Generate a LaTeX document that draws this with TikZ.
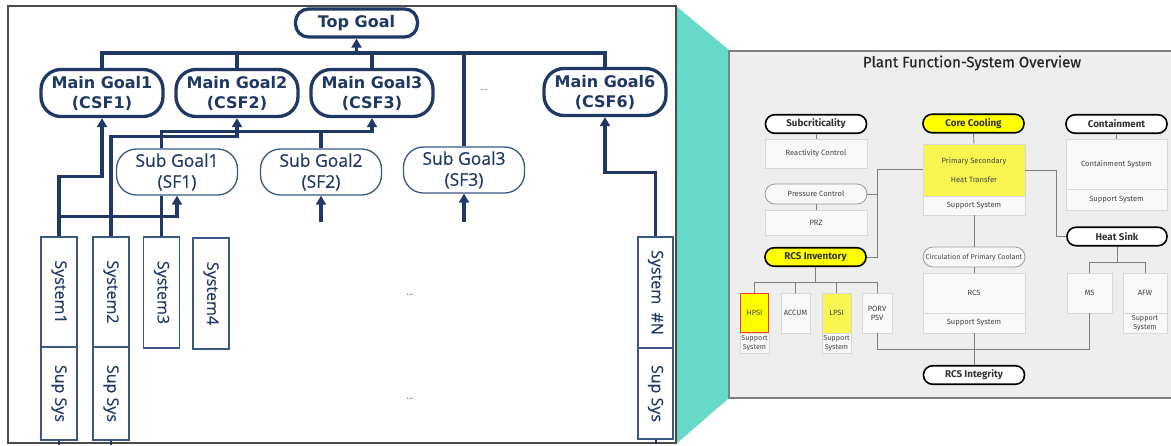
\documentclass[tikz,border=0pt]{standalone}
\usepackage{fontspec}
\usetikzlibrary{arrows.meta,calc}
\newfontfamily\goalfont{DejaVu Sans}
\newfontfamily\subfont{Open Sans}[FakeBold=0.35]
\newfontfamily\panelfont{Fira Sans}
\newfontfamily\titlefont{Fira Sans}[FakeBold=0.6]
\definecolor{navy}{HTML}{1F3864}
\definecolor{sysblue}{HTML}{3A5785}
\definecolor{framegray}{HTML}{4A4A4A}
\definecolor{teal}{HTML}{66D9C8}
\definecolor{panelbg}{HTML}{EEEEEE}
\definecolor{panelline}{HTML}{808080}
\definecolor{boxfill}{HTML}{F8F8F8}
\definecolor{boxline}{HTML}{D8D8D8}
\definecolor{boxtext}{HTML}{444444}
\definecolor{goalyellow}{HTML}{FFFF00}
\definecolor{softyellow}{HTML}{F8F550}
\definecolor{hpsired}{HTML}{F03C2C}
\tikzset{
  x=1pt, y=-1pt,
  maingoal/.style={draw=navy, line width=3.3pt, rounded corners=20pt, fill=white,
    minimum width=122pt, minimum height=47pt, inner sep=0pt, align=center,
    text=navy, font=\goalfont\bfseries\fontsize{16}{20}\selectfont},
  topgoal/.style={maingoal, minimum height=28pt, rounded corners=13pt},
  subgoal/.style={draw=sysblue, line width=1.3pt, rounded corners=20pt, fill=white,
    minimum width=121pt, minimum height=46pt, inner sep=0pt, align=center,
    text=navy, font=\subfont\fontsize{17.5}{21}\selectfont},
  sysbox/.style={draw=sysblue, line width=1.2pt, fill=white, minimum width=36pt,
    inner sep=0pt, text=navy, font=\subfont\fontsize{16}{18}\selectfont},
  tree/.style={navy, line width=3.6pt},
  arr/.style={tree, -{Triangle[width=10pt,length=9pt]}},
  dots/.style={text=gray, font=\panelfont\fontsize{10}{10}\selectfont},
  % right-hand overview panel
  pgoal/.style={draw=black, line width=1.6pt, rounded corners=9pt, fill=white,
    minimum width=101pt, minimum height=18.5pt, inner sep=0pt, text=black!80,
    font=\panelfont\bfseries\fontsize{9.8}{11}\selectfont},
  ygoal/.style={pgoal, fill=goalyellow},
  psub/.style={draw=panelline!80, line width=0.8pt, rounded corners=10pt, fill=boxfill,
    minimum width=102pt, minimum height=20pt, inner sep=0pt, text=boxtext,
    font=\panelfont\fontsize{7.6}{8}\selectfont},
  pbox/.style={draw=boxline, line width=0.6pt, fill=boxfill, inner sep=0pt,
    align=center, text=boxtext, font=\panelfont\fontsize{7.6}{9}\selectfont},
  smallbox/.style={pbox, font=\panelfont\fontsize{7.2}{8.5}\selectfont},
  plink/.style={panelline, line width=0.9pt},
}
\begin{document}
\begin{tikzpicture}
\useasboundingbox (0,0) rectangle (1171,445);
\fill[white] (0,0) rectangle (1171,445);

% connecting wedge between the two panels
\fill[teal] (676,6) -- (729,50) -- (729,398) -- (676,444) -- cycle;

% ---------------- goal tree ----------------
\draw[framegray, line width=1.5pt, fill=white] (8,6) rectangle (676,443);

\node[topgoal] (top) at (356.5,23) {Top Goal};
\node[maingoal] (mg1) at (102,93) {Main Goal1\\(CSF1)};
\node[maingoal] (mg2) at (237,93) {Main Goal2\\(CSF2)};
\node[maingoal] (mg3) at (372,93) {Main Goal3\\(CSF3)};
\node[maingoal] (mg6) at (605,92) {Main Goal6\\(CSF6)};
\node[dots] (dtop) at (484,90) {...};

\node[subgoal] (sg1) at (177,172) {Sub Goal1\\(SF1)};
\node[subgoal] (sg2) at (321,172) {Sub Goal2\\(SF2)};
\node[subgoal] (sg3) at (464,170) {Sub Goal3\\(SF3)};

\node[sysbox, minimum height=110pt] (sys1) at (59,292) {\rotatebox{-90}{System1}};
\node[sysbox, minimum height=93pt] (sup1) at (59,393.5) {\rotatebox{-90}{Sup Sys}};
\node[sysbox, minimum height=110pt] (sys2) at (111,292) {\rotatebox{-90}{System2}};
\node[sysbox, minimum height=93pt] (sup2) at (111,393.5) {\rotatebox{-90}{Sup Sys}};
\node[sysbox, minimum height=111pt] (sys3) at (161.5,292.5) {\rotatebox{-90}{System3}};
\node[sysbox, minimum height=111pt] (sys4) at (211,293.5) {\rotatebox{-90}{System4}};
\node[sysbox, minimum width=35pt, minimum height=111pt] (sysN) at (655.5,292.5) {\rotatebox{-90}{System\ \ \#N}};
\node[sysbox, minimum width=35pt, minimum height=91pt] (supN) at (655.5,393.5) {\rotatebox{-90}{Sup Sys}};
\node[dots] (dmid) at (410,295) {...};
\node[dots] (dlow) at (410,399) {...};

% top-level bus
\coordinate (bus) at (0,53);
\draw[tree] (mg1.north) -- (mg1.north |- bus) -- (mg6.north |- bus) -- (mg6.north);
\draw[tree] (mg2.north) -- (mg2.north |- bus);
\draw[tree] (mg3.north) -- (mg3.north |- bus);
\draw[tree] (sg3.north) -- (sg3.north |- bus);
\draw[arr] (top.south |- bus) -- (top.south);

% systems feeding goals
\draw[arr] (sys1.north) -- ++(0,-60) -| (mg1.south);
\draw[arr] ($(sys1.north)+(0,-20)$) -| (sg1.south);
\draw[arr] (sys2.north) -- ++(0,-100) -| (mg2.south);
\draw[tree] (sys3.north) -- (sys3.north |- sg1.south);
\draw[arr] (sg1.north -| sys3.north) -- ++(0,-17) -| (mg3.south);
\draw[tree] (sg2.north) -- ++(0,-17);
\coordinate (sg2in) at (321,222);
\coordinate (sg3in) at (464,222);
\draw[arr] (sg2in) -- (sg2.south);
\draw[arr] (sg3in) -- (sg3.south);
\draw[arr] (sysN.north) -- ++(0,-64) -| (mg6.south);
\draw[navy, line width=2pt] (sup1.south) -- ++(0,4);
\draw[navy, line width=2pt] (sup2.south) -- ++(0,4);
\draw[navy, line width=2pt] (supN.south) -- ++(0,4);

% ---------------- plant overview panel ----------------
\draw[draw=panelline, line width=2pt, fill=panelbg] (729,51) rectangle (1174,398);
\node[text=black!85, font=\titlefont\fontsize{15}{17}\selectfont] (title) at (972,63) {Plant Function-System Overview};

% subcriticality / pressure / inventory column
\node[pgoal] (subc) at (816,124) {Subcriticality};
\node[pbox, minimum width=102pt, minimum height=29pt] (rc) at (816,153.5) {Reactivity Control};
\node[psub] (pc) at (816,194) {Pressure Control};
\node[pbox, minimum width=102pt, minimum height=25pt] (prz) at (816,222.5) {PRZ};
\node[ygoal] (inv) at (815.5,257) {RCS Inventory};
\node[pbox, draw=hpsired, line width=1.2pt, fill=goalyellow, minimum width=28pt, minimum height=39pt] (hpsi) at (754.5,313) {HPSI};
\node[smallbox, minimum width=29pt, minimum height=20pt] (hpsis) at (754.5,343) {Support\\System};
\node[pbox, minimum width=29pt, minimum height=40pt] (accum) at (795.5,313) {ACCUM};
\node[pbox, fill=softyellow, minimum width=29pt, minimum height=40pt] (lpsi) at (836.5,313) {LPSI};
\node[smallbox, minimum width=29pt, minimum height=20pt] (lpsis) at (836.5,343) {Support\\System};
\node[pbox, minimum width=30pt, minimum height=40pt] (porv) at (877,313) {PORV\\PSV};

% core cooling column
\node[ygoal] (cc) at (973.5,123.5) {Core Cooling};
\node[pbox, fill=softyellow, minimum width=102pt, minimum height=52pt, font=\panelfont\fontsize{7.6}{19}\selectfont] (psht) at (974,170) {Primary Secondary\\Heat Transfer};
\node[pbox, minimum width=102pt, minimum height=19pt] (pshts) at (974,205.5) {Support System};
\node[psub, font=\panelfont\fontsize{7.1}{8}\selectfont] (circ) at (974,257) {Circulation of Primary Coolant};
\node[pbox, minimum width=102pt, minimum height=40pt] (rcs) at (974,293) {RCS};
\node[pbox, minimum width=102pt, minimum height=20pt] (rcss) at (974,323) {Support System};
\node[pgoal] (integ) at (974,375) {RCS Integrity};

% containment / heat sink column
\node[pgoal] (cont) at (1116.5,124) {Containment};
\node[pbox, minimum width=101pt, minimum height=50pt] (contsys) at (1116.5,164) {Containment System};
\node[pbox, minimum width=101pt, minimum height=21pt] (conts) at (1116.5,199.5) {Support System};
\node[pgoal, minimum width=100pt] (hs) at (1117,236.5) {Heat Sink};
\node[pbox, minimum width=45pt, minimum height=40pt] (ms) at (1089.5,293) {MS};
\node[pbox, minimum width=44pt, minimum height=40pt] (afw) at (1145,293) {AFW};
\node[smallbox, minimum width=44pt, minimum height=20pt] (afws) at (1145,323) {Support\\System};

% panel links
\draw[plink] (subc.south) -- (rc.north);
\draw[plink] (pc.south) -- (prz.north);
\coordinate (invbus) at (0,282);
\draw[plink] (inv.south) -- (inv.south |- invbus);
\draw[plink] (hpsi.north) |- (porv.north |- invbus) -- (porv.north);
\draw[plink] (accum.north) -- (accum.north |- invbus);
\draw[plink] (lpsi.north) -- (lpsi.north |- invbus);
\coordinate (jn) at (877,169);
\draw[plink] (inv.east) -| (jn) -- (jn -| psht.west);
\draw[plink] (pc.east) -- (pc.east -| jn);
\draw[plink] (cc.south) -- (psht.north);
\draw[plink] (pshts.south) -- (circ.north);
\draw[plink] (circ.south) -- (rcs.north);
\draw[plink] (rcss.south) -- (integ.north);
\coordinate (hx) at (1056,0);
\draw[plink] (psht.east) -- (psht.east -| hx) |- (hs.west);
\coordinate (lowbus) at (0,349);
\draw[plink] (porv.south) |- (ms.south |- lowbus) -- (ms.south);
\draw[plink] (cont.south) -- (contsys.north);
\coordinate (hsbus) at (0,262);
\draw[plink] (hs.south) -- (hs.south |- hsbus);
\draw[plink] (ms.north) |- (afw.north |- hsbus) -- (afw.north);
\end{tikzpicture}
\end{document}
